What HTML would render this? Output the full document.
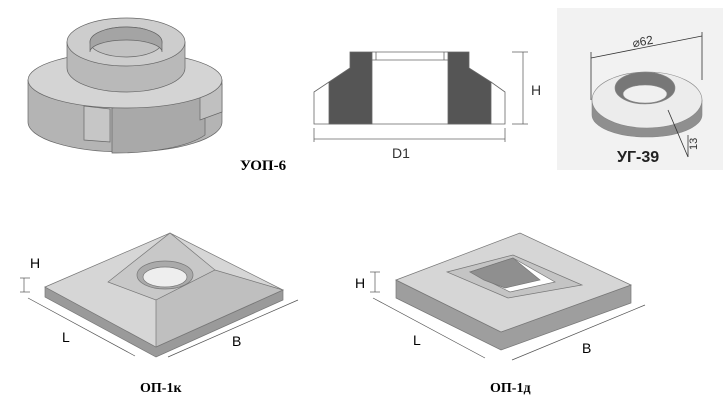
<html><body style="margin:0;background:#fff">
<svg width="727" height="413" xmlns="http://www.w3.org/2000/svg" style="font-family:'Liberation Sans',sans-serif">
<rect width="727" height="413" fill="#fff"/>
<!-- UOP-6 -->
<g stroke="#666" stroke-width="0.7">
<path d="M28,80 L28,122 A97,30 0 0 0 222,122 L222,80 Z" fill="#b4b4b4"/>
<path d="M112,108 L112,153 A97,30 0 0 0 205,135 L205,95 Z" fill="#a9a9a9"/>
<path d="M84,106 L84,140 L110,142 L110,109Z" fill="#c6c6c6"/>
<path d="M200,90 L200,120 L222,112 L222,84Z" fill="#c0c0c0"/>
<ellipse cx="125" cy="80" rx="97" ry="28" fill="#d4d4d4"/>
<path d="M67,42 L67,68 A59,24 0 0 0 185,68 L185,42 Z" fill="#b9b9b9"/>
<ellipse cx="126" cy="42" rx="59" ry="24" fill="#cdcdcd"/>
<ellipse cx="126" cy="42" rx="36" ry="15" fill="#c2c2c2"/>
<path d="M90,42 A36,15 0 0 1 162,42 L162,52 A36,12 0 0 0 90,52Z" fill="#a4a4a4"/>
</g>
<text x="240" y="170" font-family="Liberation Serif" font-weight="bold" font-size="15">УОП-6</text>
<!-- section -->
<g stroke="#666" stroke-width="0.8" fill="none">
<polygon points="350,52 372,52 372,124 329,124 329,82 350,68" fill="#555"/>
<polygon points="448,52 469,52 469,68 491,82 491,124 448,124" fill="#555"/>
<polyline points="329,82 314,92 314,124 505,124 505,92 491,82"/>
<line x1="372" y1="52" x2="448" y2="52"/><line x1="372" y1="60" x2="448" y2="60"/>
<line x1="376" y1="52" x2="376" y2="60"/><line x1="444" y1="52" x2="444" y2="60"/>
<line x1="314" y1="139" x2="505" y2="139"/><line x1="314" y1="128" x2="314" y2="142"/><line x1="505" y1="128" x2="505" y2="142"/>
<line x1="523" y1="52" x2="523" y2="124"/><line x1="512" y1="52" x2="528" y2="52"/><line x1="512" y1="124" x2="528" y2="124"/>
</g>
<text x="392" y="158" font-size="14" fill="#333">D1</text>
<text x="531" y="95" font-size="14" fill="#333">H</text>
<!-- UG-39 -->
<rect x="557" y="8" width="166" height="162" fill="#f2f2f2"/>
<g stroke="#888" stroke-width="0.6">
<path d="M592,100 L592,115 A55,22 0 0 0 702,115 L702,100 Z" fill="#8f8f8f"/>
<ellipse cx="647" cy="100" rx="55" ry="28" fill="#ececec"/>
<ellipse cx="645" cy="88" rx="30" ry="16" fill="#777"/>
<ellipse cx="645" cy="94" rx="22" ry="9" fill="#f0f0f0"/>
</g>
<g stroke="#333" stroke-width="0.8"><line x1="591" y1="58" x2="702" y2="36"/><line x1="591" y1="52" x2="591" y2="100"/><line x1="702" y1="32" x2="702" y2="80"/>
<line x1="668" y1="110" x2="688" y2="157"/><line x1="688" y1="135" x2="688" y2="157"/></g>
<text x="633" y="46" font-size="12" fill="#333" transform="rotate(-10 640 45)">⌀62</text>
<text x="697" y="150" font-size="11" fill="#333" transform="rotate(-90 697 150)">13</text>
<text x="617" y="162" font-size="16" font-weight="bold" fill="#222">УГ-39</text>
<!-- OP-1k -->
<g stroke="#777" stroke-width="0.7">
<polygon points="45,287 45,297 156,357 283,300 283,290 156,347" fill="#9a9a9a"/>
<polygon points="45,287 170,233 283,290 156,347" fill="#d6d6d6"/>
<polygon points="108,282 170,233 215,270 156,300" fill="#c8c8c8"/>
<polygon points="156,300 215,270 283,290 156,347" fill="#bfbfbf"/>
<ellipse cx="165" cy="275" rx="28" ry="14" fill="#aaa"/>
<ellipse cx="165" cy="277" rx="22" ry="10" fill="#eee"/>
</g>
<g stroke="#555" stroke-width="0.7"><line x1="28" y1="298" x2="135" y2="356"/><line x1="168" y1="357" x2="298" y2="300"/><line x1="20" y1="278" x2="30" y2="278"/><line x1="20" y1="292" x2="30" y2="292"/><line x1="24" y1="278" x2="24" y2="292"/></g>
<text x="30" y="268" font-size="14">H</text><text x="62" y="342" font-size="14">L</text><text x="232" y="346" font-size="14">B</text>
<text x="140" y="392" font-family="Liberation Serif" font-weight="bold" font-size="14">ОП-1к</text>
<!-- OP-1d -->
<g stroke="#777" stroke-width="0.7">
<polygon points="396,280 396,298 501,350 631,303 631,285 501,332" fill="#9e9e9e"/>
<polygon points="396,280 520,233 631,285 501,332" fill="#d6d6d6"/>
<polygon points="447,272 513,255 582,285 508,298" fill="#c4c4c4"/>
<polygon points="470,272 513,258 555,282 510,292" fill="#fff"/>
<polygon points="470,272 513,258 540,280 505,288 484,280" fill="#8f8f8f"/>
</g>
<g stroke="#555" stroke-width="0.7"><line x1="373" y1="298" x2="485" y2="358"/><line x1="512" y1="360" x2="645" y2="305"/><line x1="370" y1="272" x2="380" y2="272"/><line x1="370" y1="292" x2="380" y2="292"/><line x1="375" y1="272" x2="375" y2="292"/></g>
<text x="355" y="288" font-size="14">H</text><text x="413" y="345" font-size="14">L</text><text x="582" y="353" font-size="14">B</text>
<text x="490" y="392" font-family="Liberation Serif" font-weight="bold" font-size="14">ОП-1д</text>
</svg>
</body></html>
